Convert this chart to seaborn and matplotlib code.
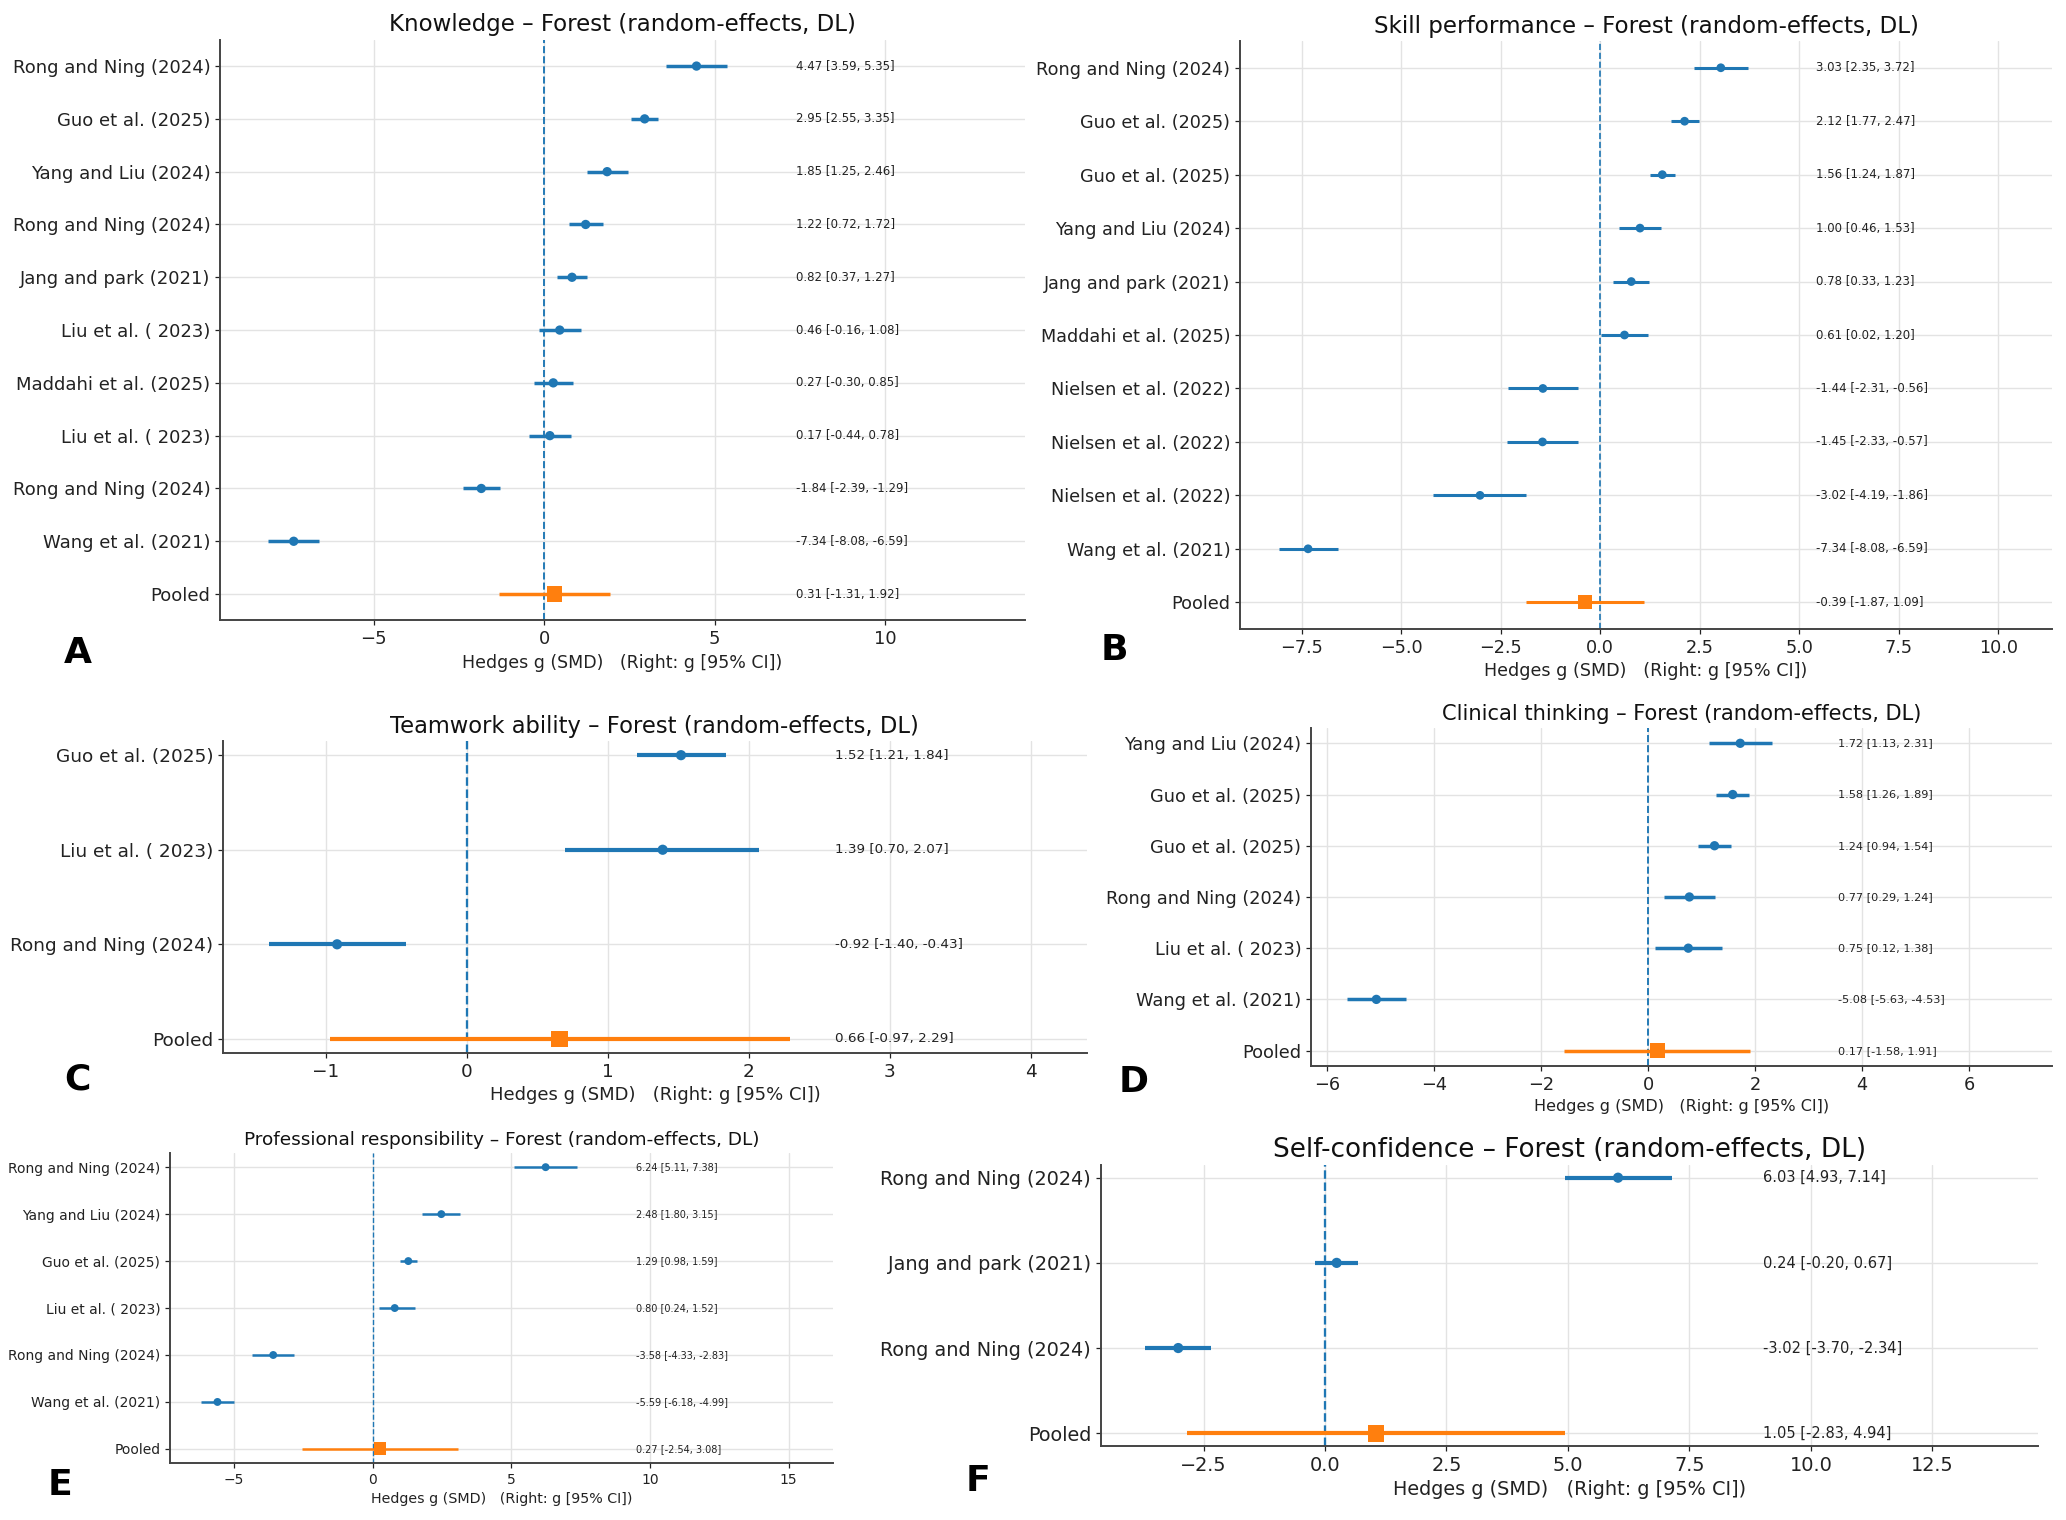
import numpy as np
import pandas as pd
import matplotlib
matplotlib.use("Agg")
import matplotlib.pyplot as plt
import seaborn as sns

# ---- data ----
labels_A = ["Rong and Ning (2024)", "Guo et al. (2025)", "Yang and Liu (2024)", "Rong and Ning (2024)",
            "Jang and park (2021)", "Liu et al. ( 2023)", "Maddahi et al. (2025)", "Liu et al. ( 2023)",
            "Rong and Ning (2024)", "Wang et al. (2021)"]
g_A = [4.47, 2.95, 1.85, 1.22, 0.82, 0.46, 0.27, 0.17, -1.84, -7.34]
lo_A = [3.59, 2.55, 1.25, 0.72, 0.37, -0.16, -0.30, -0.44, -2.39, -8.08]
hi_A = [5.35, 3.35, 2.46, 1.72, 1.27, 1.08, 0.85, 0.78, -1.29, -6.59]
pooled_A = [0.31, -1.31, 1.92]

labels_B = ["Rong and Ning (2024)", "Guo et al. (2025)", "Guo et al. (2025)", "Yang and Liu (2024)",
            "Jang and park (2021)", "Maddahi et al. (2025)", "Nielsen et al. (2022)", "Nielsen et al. (2022)",
            "Nielsen et al. (2022)", "Wang et al. (2021)"]
g_B = [3.03, 2.12, 1.56, 1.00, 0.78, 0.61, -1.44, -1.45, -3.02, -7.34]
lo_B = [2.35, 1.77, 1.24, 0.46, 0.33, 0.02, -2.31, -2.33, -4.19, -8.08]
hi_B = [3.72, 2.47, 1.87, 1.53, 1.23, 1.20, -0.56, -0.57, -1.86, -6.59]
pooled_B = [-0.39, -1.87, 1.09]

labels_C = ["Guo et al. (2025)", "Liu et al. ( 2023)", "Rong and Ning (2024)"]
g_C = [1.52, 1.39, -0.92]
lo_C = [1.21, 0.70, -1.40]
hi_C = [1.84, 2.07, -0.43]
pooled_C = [0.66, -0.97, 2.29]

labels_D = ["Yang and Liu (2024)", "Guo et al. (2025)", "Guo et al. (2025)", "Rong and Ning (2024)",
            "Liu et al. ( 2023)", "Wang et al. (2021)"]
g_D = [1.72, 1.58, 1.24, 0.77, 0.75, -5.08]
lo_D = [1.13, 1.26, 0.94, 0.29, 0.12, -5.63]
hi_D = [2.31, 1.89, 1.54, 1.24, 1.38, -4.53]
pooled_D = [0.17, -1.58, 1.91]

labels_E = ["Rong and Ning (2024)", "Yang and Liu (2024)", "Guo et al. (2025)", "Liu et al. ( 2023)",
            "Rong and Ning (2024)", "Wang et al. (2021)"]
g_E = [6.24, 2.48, 1.29, 0.80, -3.58, -5.59]
lo_E = [5.11, 1.80, 0.98, 0.24, -4.33, -6.18]
hi_E = [7.38, 3.15, 1.59, 1.52, -2.83, -4.99]
pooled_E = [0.27, -2.54, 3.08]

labels_F = ["Rong and Ning (2024)", "Jang and park (2021)", "Rong and Ning (2024)"]
g_F = [6.03, 0.24, -3.02]
lo_F = [4.93, -0.20, -3.70]
hi_F = [7.14, 0.67, -2.34]
pooled_F = [1.05, -2.83, 4.94]

outcomes = ["Knowledge", "Skill performance", "Teamwork ability",
            "Clinical thinking", "Professional responsibility", "Self-confidence"]
panel_letters = ["A", "B", "C", "D", "E", "F"]

# ---- layout per panel (each panel was a separately scaled image) ----
rects = [[0.1065, 0.5918, 0.3896, 0.3821],
         [0.6002, 0.5862, 0.3930, 0.3868],
         [0.1079, 0.3072, 0.4182, 0.2053],
         [0.6346, 0.2987, 0.3587, 0.2224],
         [0.0823, 0.0375, 0.3209, 0.2039],
         [0.5329, 0.0487, 0.4535, 0.1849]]
xlims = [(-9.5, 14.1), (-9.05, 11.35), (-1.73, 4.40), (-6.30, 7.55), (-7.3, 16.6), (-4.61, 14.67)]
text_x = [7.39, 5.43, 2.61, 3.55, 9.5, 9.01]
tick_fs = [13, 12.7, 13.3, 12.8, 10, 13.9]
title_fs = [16.5, 16.6, 16.3, 15.1, 13.3, 18.9]
xlab_fs = [12.5, 12.6, 13, 11.5, 10.3, 13.9]
annot_fs = [8.5, 8.5, 9.7, 8.1, 7, 10.5]
line_w = [2.5, 2.2, 3.0, 2.5, 1.8, 3.0]
letter_xy = [(0.0378, 0.5704), (0.5392, 0.5724), (0.0373, 0.2895),
             (0.5489, 0.2882), (0.029, 0.023), (0.4734, 0.0257)]

panels = [(labels_A, g_A, lo_A, hi_A, pooled_A),
          (labels_B, g_B, lo_B, hi_B, pooled_B),
          (labels_C, g_C, lo_C, hi_C, pooled_C),
          (labels_D, g_D, lo_D, hi_D, pooled_D),
          (labels_E, g_E, lo_E, hi_E, pooled_E),
          (labels_F, g_F, lo_F, hi_F, pooled_F)]

sns.set_style("whitegrid")
plt.rcParams["font.family"] = ["DejaVu Sans"]

blue = "#1f77b4"
orange = "#ff7f0e"

fig = plt.figure(figsize=(20.66, 15.2), dpi=100)

for i, (labels, g, lo, hi, pooled) in enumerate(panels):
    ax = fig.add_axes(rects[i])
    n = len(labels)
    df = pd.DataFrame({"study": labels + ["Pooled"],
                       "g": g + [pooled[0]],
                       "lo": lo + [pooled[1]],
                       "hi": hi + [pooled[2]]})
    df["pos"] = np.arange(n, -1, -1)
    df["kind"] = ["study"] * n + ["pooled"]
    studies = df[df["kind"] == "study"]
    pool = df[df["kind"] == "pooled"]

    ax.hlines(studies["pos"], studies["lo"], studies["hi"], color=blue, lw=line_w[i], zorder=2)
    ax.hlines(pool["pos"], pool["lo"], pool["hi"], color=orange, lw=line_w[i], zorder=2)
    sns.scatterplot(data=studies, x="g", y="pos", color=blue, s=line_w[i] * 18,
                    edgecolor="none", ax=ax, zorder=3, legend=False)
    sns.scatterplot(data=pool, x="g", y="pos", color=orange, marker="s", s=line_w[i] * 48,
                    edgecolor="none", ax=ax, zorder=3, legend=False)
    ax.axvline(0, color=blue, ls="--", lw=line_w[i] * 0.55, zorder=1)

    ax.set_xlim(*xlims[i])
    ax.set_yticks(df["pos"])
    ax.set_yticklabels(df["study"])
    ax.margins(y=0.05)
    for _, r in df.iterrows():
        ax.text(text_x[i], r["pos"], f"{r['g']:.2f} [{r['lo']:.2f}, {r['hi']:.2f}]",
                va="center", ha="left", fontsize=annot_fs[i], color="#222222")

    ax.set_title(f"{outcomes[i]} \u2013 Forest (random-effects, DL)", fontsize=title_fs[i], color="#111111")
    ax.set_xlabel("Hedges g (SMD)   (Right: g [95% CI])", fontsize=xlab_fs[i], color="#222222")
    ax.set_ylabel("")
    ax.tick_params(axis="both", labelsize=tick_fs[i], colors="#222222", length=3.5, width=0.9,
                   left=True, bottom=True)
    ax.grid(True, color="#e3e3e3", lw=1.0)
    for side in ["top", "right"]:
        ax.spines[side].set_visible(False)
    for side in ["left", "bottom"]:
        ax.spines[side].set_color("#444444")
        ax.spines[side].set_linewidth(1.4)

    fig.text(letter_xy[i][0], letter_xy[i][1], panel_letters[i], fontsize=26,
             fontweight="bold", ha="center", va="center", color="black")

fig.savefig("out.png", dpi=100)
